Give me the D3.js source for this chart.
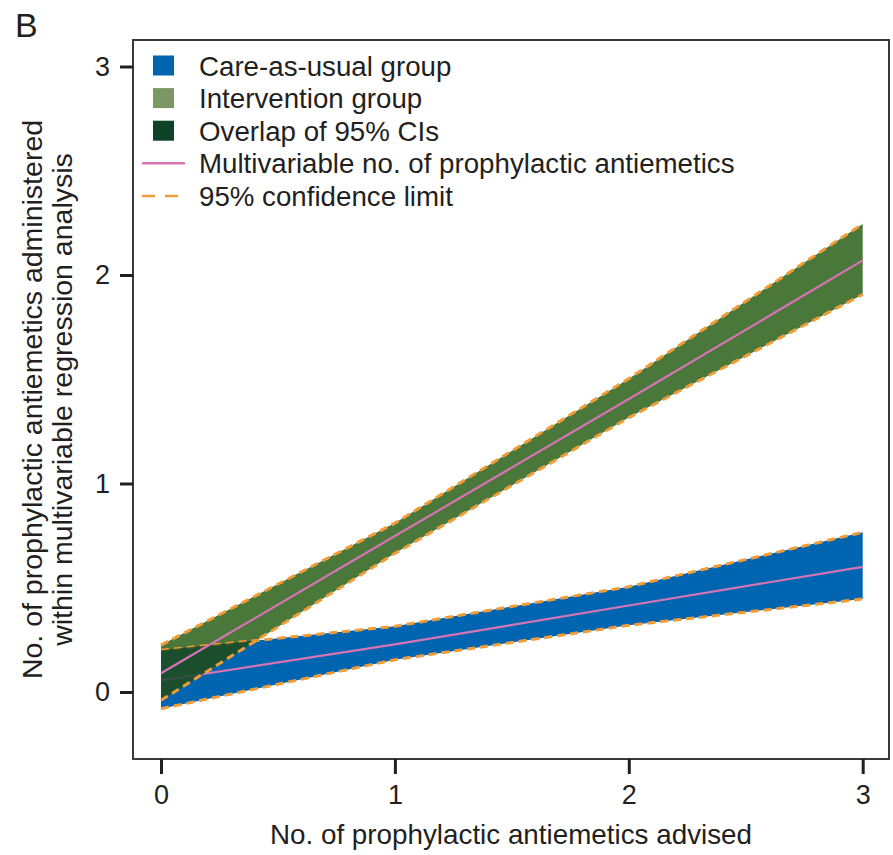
<!DOCTYPE html>
<html><head><meta charset="utf-8">
<script src="https://cdn.jsdelivr.net/npm/d3@7"></script>
<style>
html,body{margin:0;padding:0;background:#fff;}
text{font-family:"Liberation Sans",Arial,Helvetica,sans-serif;fill:#231f20;}
</style></head>
<body><svg id="c" width="893" height="855"></svg>
<script>
// Data
const advised = [0, 1, 2, 3];
const careMean  = [0.055, 0.228, 0.415, 0.600];
const careUpper = [0.200, 0.315, 0.505, 0.766];
const careLower = [-0.080, 0.155, 0.320, 0.446];
const intMean   = [0.090, 0.748, 1.405, 2.070];
const intUpper  = [0.225, 0.810, 1.503, 2.245];
const intLower  = [-0.040, 0.665, 1.316, 1.907];
const xTicks = [0, 1, 2, 3];
const yTicks = [0, 1, 2, 3];
const legendItems = ["Care-as-usual group", "Intervention group", "Overlap of 95% CIs",
  "Multivariable no. of prophylactic antiemetics", "95% confidence limit"];

const C = {blue:"#0065b0", green:"#4a773a", greenLegend:"#7a9764", dark:"#0f4329",
  pink:"#d774b4", orange:"#f29c38", axis:"#3a3a3a"};

const svg = d3.select("#c");
const frame = {left:133, right:889, top:40, bottom:759};
const x = d3.scaleLinear().domain([0,3]).range([161, 862.7]);
const y = d3.scaleLinear().domain([0,3]).range([692, 66.5]);

const careRows = advised.map((a,i)=>({a, m:careMean[i], u:careUpper[i], l:careLower[i]}));
const intRows  = advised.map((a,i)=>({a, m:intMean[i], u:intUpper[i], l:intLower[i]}));

const area = d3.area().x(d=>x(d.a)).y0(d=>y(d.l)).y1(d=>y(d.u));
const line = k => d3.line().x(d=>x(d.a)).y(d=>y(d[k]));

svg.append("defs").append("clipPath").attr("id","careClip")
  .append("path").attr("d", area(careRows));

svg.append("path").attr("d", area(careRows)).attr("fill", C.blue);
svg.append("path").attr("d", area(intRows)).attr("fill", C.green);

function drawLines(rows){
  svg.append("path").attr("d", line("m")(rows)).attr("fill","none")
    .attr("stroke",C.pink).attr("stroke-width",2.2);
  ["u","l"].forEach(k=>svg.append("path").attr("d", line(k)(rows)).attr("fill","none")
    .attr("stroke",C.orange).attr("stroke-width",3).attr("stroke-dasharray","8,5"));
}
drawLines(careRows);
svg.append("path").attr("d", area(intRows)).attr("clip-path","url(#careClip)")
  .attr("fill", C.dark).attr("fill-opacity",0.8);
drawLines(intRows);

svg.append("rect").attr("x",frame.left).attr("y",frame.top)
  .attr("width",frame.right-frame.left).attr("height",frame.bottom-frame.top)
  .attr("fill","none").attr("stroke",C.axis).attr("stroke-width",2);

const xAxis = svg.append("g").attr("transform",`translate(0,${frame.bottom})`)
  .call(d3.axisBottom(x).tickValues(xTicks).tickFormat(d3.format("d")).tickSize(15).tickPadding(11));
const yAxis = svg.append("g").attr("transform",`translate(${frame.left},0)`)
  .call(d3.axisLeft(y).tickValues(yTicks).tickFormat(d3.format("d")).tickSize(13).tickPadding(10));
[xAxis,yAxis].forEach(g=>{
  g.select(".domain").remove();
  g.selectAll(".tick line").attr("stroke","#231f20").attr("stroke-width",3);
  g.selectAll(".tick text").attr("font-size",27).style("fill","#231f20")
    .attr("font-family","Liberation Sans, Arial, sans-serif");
});

svg.append("text").attr("x",(frame.left+frame.right)/2).attr("y",844)
  .attr("text-anchor","middle").attr("font-size",27.8)
  .text("No. of prophylactic antiemetics advised");
const yt = svg.append("text").attr("transform",`translate(42,${(frame.top+frame.bottom)/2}) rotate(-90)`)
  .attr("text-anchor","middle").attr("font-size",28.5);
yt.append("tspan").attr("x",0).attr("y",0).text("No. of prophylactic antiemetics administered");
yt.append("tspan").attr("x",0).attr("y",30).text("within multivariable regression analysis");

svg.append("text").attr("x",15).attr("y",37).attr("font-size",34).text("B");

const lg = svg.append("g");
const rowY = i => 65.5 + i*32.6;
const sw = [C.blue, C.greenLegend, C.dark];
sw.forEach((c,i)=>lg.append("rect").attr("x",153).attr("y",rowY(i)-10).attr("width",21).attr("height",20)
  .attr("fill",c));
lg.append("line").attr("x1",142).attr("x2",185).attr("y1",rowY(3)).attr("y2",rowY(3))
  .attr("stroke",C.pink).attr("stroke-width",2.5);
lg.append("line").attr("x1",142).attr("x2",185).attr("y1",rowY(4)).attr("y2",rowY(4))
  .attr("stroke",C.orange).attr("stroke-width",2.5).attr("stroke-dasharray","13,10");
legendItems.forEach((t,i)=>lg.append("text").attr("x",199).attr("y",rowY(i)+10)
  .attr("font-size",27.7).text(t));
</script></body></html>
